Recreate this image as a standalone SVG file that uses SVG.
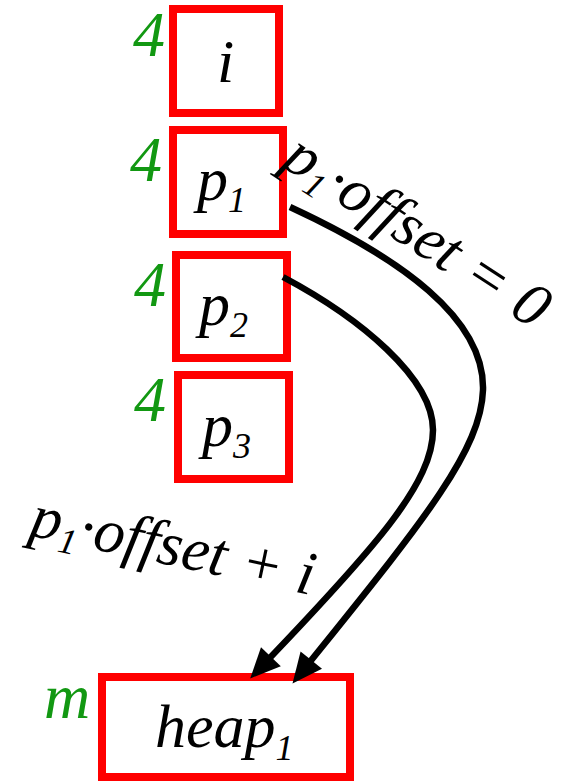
<svg xmlns="http://www.w3.org/2000/svg" width="567" height="781" viewBox="0 0 567 781">
<style>
.box{fill:#fff;stroke:#ff0000;stroke-width:8}
.conn{fill:none;stroke:#000;stroke-width:6.5}
.head{fill:#000;stroke:none}
.t{font-family:Liberation Serif,serif;font-style:italic;font-size:62px;fill:#000}
.g{font-family:Liberation Serif,serif;font-style:italic;font-size:64px;fill:#129812}
.s{font-size:36px}
</style>
<g id="node-i">
<rect class="box" x="173" y="9" width="106" height="104"/>
<text class="t" x="217" y="82">i</text>
<text class="g" x="133" y="56">4</text>
</g>
<g id="node-p1">
<rect class="box" x="173" y="130" width="110" height="104"/>
<text class="t" x="197" y="200">p<tspan class="s" dy="12">1</tspan></text>
<text class="g" x="130" y="181">4</text>
</g>
<g id="node-p2">
<rect class="box" x="176" y="255" width="111" height="103"/>
<text class="t" x="199" y="325">p<tspan class="s" dy="12">2</tspan></text>
<text class="g" x="134" y="306">4</text>
</g>
<g id="node-p3">
<rect class="box" x="178" y="375" width="111" height="104"/>
<text class="t" x="202" y="446">p<tspan class="s" dy="12">3</tspan></text>
<text class="g" x="134" y="421">4</text>
</g>
<g id="node-heap1">
<rect class="box" x="102" y="677" width="248" height="100"/>
<text class="t" x="155" y="747">heap<tspan class="s" dy="13">1</tspan></text>
<text class="g" x="44" y="718">m</text>
</g>
<g id="connectors">
<path class="conn" d="M290,207 C400,258 485,318 483,390 C481,452 420,525 305,668"/>
<path class="head" d="M292.5,683.6 L322,668.8 L300.6,651.6 z"/>
<path class="conn" d="M283,277 C360,318 433,378 433,430 C433,482 378,545 264,664"/>
<path class="head" d="M250.2,678.4 L280.8,666.3 L261,647.3 z"/>
</g>
<g id="edge-labels">
<text class="t" transform="translate(280,165) rotate(33)">p<tspan class="s" dy="10">1</tspan><tspan dy="-10">·offset = 0</tspan></text>
<text class="t" transform="translate(28,535) rotate(12)">p<tspan class="s" dy="10">1</tspan><tspan dy="-10">·offset + i</tspan></text>
</g>
</svg>
